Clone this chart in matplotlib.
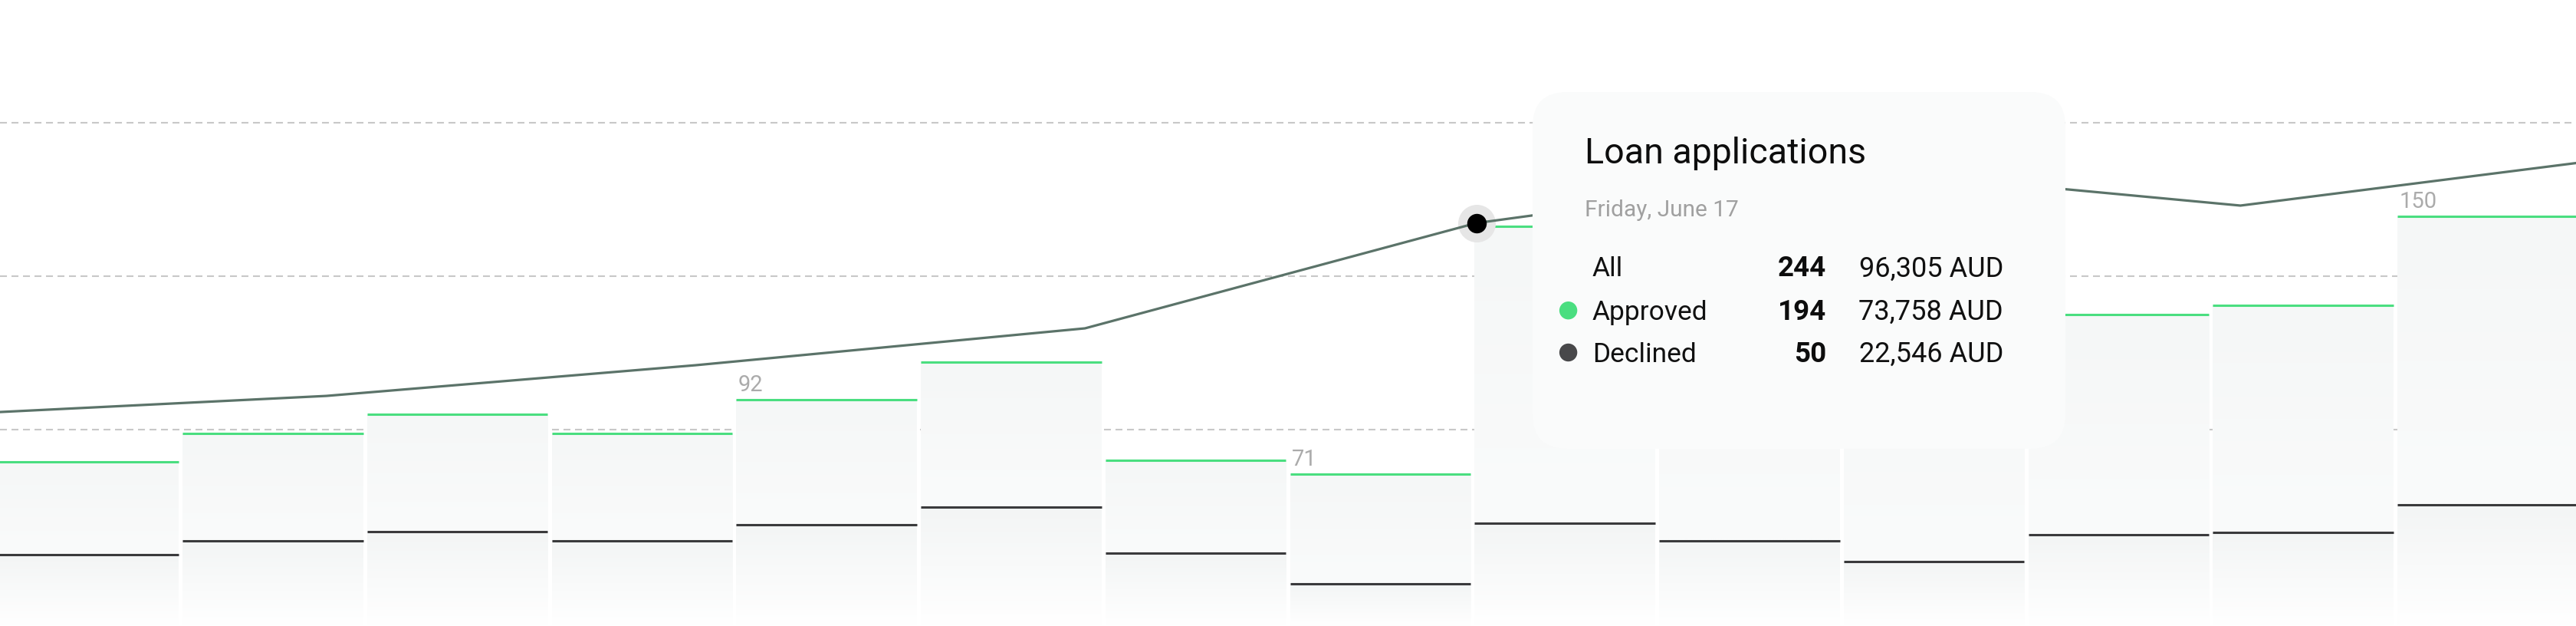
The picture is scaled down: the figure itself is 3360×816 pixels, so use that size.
import matplotlib
matplotlib.use("Agg")
import matplotlib.pyplot as plt
import numpy as np
from matplotlib.patches import FancyBboxPatch, Circle
from matplotlib.colors import to_rgb

# ---------------- data ----------------
approved = [79.7, 93.5, 102.8, 93.5, 109.9, 128.1, 80.3, 73.7, 194, 168, 140, 151.2, 155.7, 198.7]
declined = [34.6, 41.3, 45.8, 41.3, 49.2, 57.7, 35.2, 20.4, 50, 41.3, 31.3, 44.3, 45.6, 58.8]

trend_pos = [-0.79, 1.29, 3.29, 5.40, 7.52, 9.62, 11.66, 13.73]
trend_vals = [102.5, 111.7, 126.6, 144.5, 195.6, 221.2, 204.1, 227.6]
hover_idx = 4

grid_levels = [95.3, 169.8, 244.3]

label_bars = [4, 7, 13]
label_texts = ["92", "71", "150"]

tooltip_title = "Loan applications"
tooltip_date = "Friday, June 17"
row_labels = ["All", "Approved", "Declined"]
row_counts = [244, 194, 50]
row_amounts = [96305, 73758, 22546]
currency = "AUD"

# ---------------- style ----------------
plt.rcParams["font.family"] = ["Roboto", "DejaVu Sans"]
plt.rcParams["lines.scale_dashes"] = False

GREEN = "#4ade80"
DARK = "#3a3a3c"
LINE = "#5b7369"
GRID = "#c8c8c8"

W, H = 3360, 816
fig = plt.figure(figsize=(W / 100, H / 100), dpi=100)
fig.patch.set_facecolor("white")

ax = fig.add_axes([0, 0, 1, 1])
ax.set_axis_off()

x = np.arange(len(approved))
appr = np.array(approved)
decl = np.array(declined)
bw = 0.979

for g in grid_levels:
    ax.axhline(g, color=GRID, lw=1.5, ls=(0, (6.5, 4.3)), zorder=1)

upper = ax.bar(x, appr - decl, bottom=decl, width=bw, color="#f6f7f7", lw=0, zorder=2)
lower = ax.bar(x, decl, bottom=0, width=bw, color="#f4f5f5", lw=0, zorder=2)


def grad(top, bottom, n=64):
    t = np.linspace(0, 1, n)[:, None]
    a, b = np.array(to_rgb(top)), np.array(to_rgb(bottom))
    return (a * (1 - t) + b * t)[:, None, :]


for patches, top, bot in ((upper, "#f5f7f7", "#fafbfb"), (lower, "#f3f5f5", "#ffffff")):
    for p in patches:
        bx, by, w, h = p.get_x(), p.get_y(), p.get_width(), p.get_height()
        im = ax.imshow(grad(top, bot), extent=(bx, bx + w, by, by + h), origin="upper",
                       aspect="auto", interpolation="bilinear", zorder=2.1)
        im.set_clip_path(p)

ax.hlines(appr, x - bw / 2, x + bw / 2, color=GREEN, lw=2.2, zorder=3)
ax.hlines(decl, x - bw / 2, x + bw / 2, color=DARK, lw=2.2, zorder=3)

for i, t in zip(label_bars, label_texts):
    ax.annotate(t, xy=(x[i] - bw / 2, appr[i]), xytext=(1.5, 8), textcoords="offset points",
                fontsize=21, color="#ababab", va="baseline", ha="left", zorder=3)

ax.plot(trend_pos, trend_vals, color=LINE, lw=2.3, zorder=4, solid_joinstyle="round")
ax.plot(trend_pos[hover_idx], trend_vals[hover_idx], "o", ms=35.3, color="#e6e6e6",
        mec="none", zorder=3.9)
ax.plot(trend_pos[hover_idx], trend_vals[hover_idx], "o", ms=18.3, color="black",
        mec="none", zorder=4.2)

ax.set_xlim(-0.478, 13.478)
ax.set_ylim(0, 303.9)

# ---------------- tooltip (overlay in pixel units) ----------------
ov = fig.add_axes([0, 0, 1, 1], zorder=10)
ov.set_xlim(0, W)
ov.set_ylim(H, 0)
ov.set_axis_off()
ov.patch.set_alpha(0)

tx0, ty0, tw, th, tr = 1999, 120, 695, 465, 45
for i in range(1, 34):
    pad = i * 3.6
    ov.add_patch(FancyBboxPatch((tx0 - pad, ty0 - pad + 8), tw + 2 * pad, th + 2 * pad,
                                boxstyle=f"round,pad=0,rounding_size={tr + pad}",
                                fc="black", ec="none", alpha=0.0019))
ov.add_patch(FancyBboxPatch((tx0, ty0), tw, th, boxstyle=f"round,pad=0,rounding_size={tr}",
                            fc="#fafbfb", ec="none"))

ov.text(2067, 212.8, tooltip_title, fontsize=33.5, color="#0d0d0d", va="baseline", ha="left")
ov.text(2067, 282.4, tooltip_date, fontsize=21.5, color="#a0a0a0", va="baseline", ha="left")

row_base = [360.4, 416.7, 471.5]
dot_colors = [None, GREEN, "#48484a"]
for lab, cnt, amt, yb, dc in zip(row_labels, row_counts, row_amounts, row_base, dot_colors):
    ov.text(2077, yb, lab, fontsize=25.5, color="#111111", va="baseline", ha="left")
    ov.text(2382, yb, f"{cnt}", fontsize=26.5, color="#0d0d0d", va="baseline", ha="right",
            fontweight="bold")
    ov.text(2613, yb, f"{amt:,} {currency}", fontsize=26, color="#111111", va="baseline",
            ha="right")
    if dc is not None:
        ov.add_patch(Circle((2045.6, yb - 12), 11.7, fc=dc, ec="none"))

fig.savefig("out.png", dpi=100, facecolor="white")
